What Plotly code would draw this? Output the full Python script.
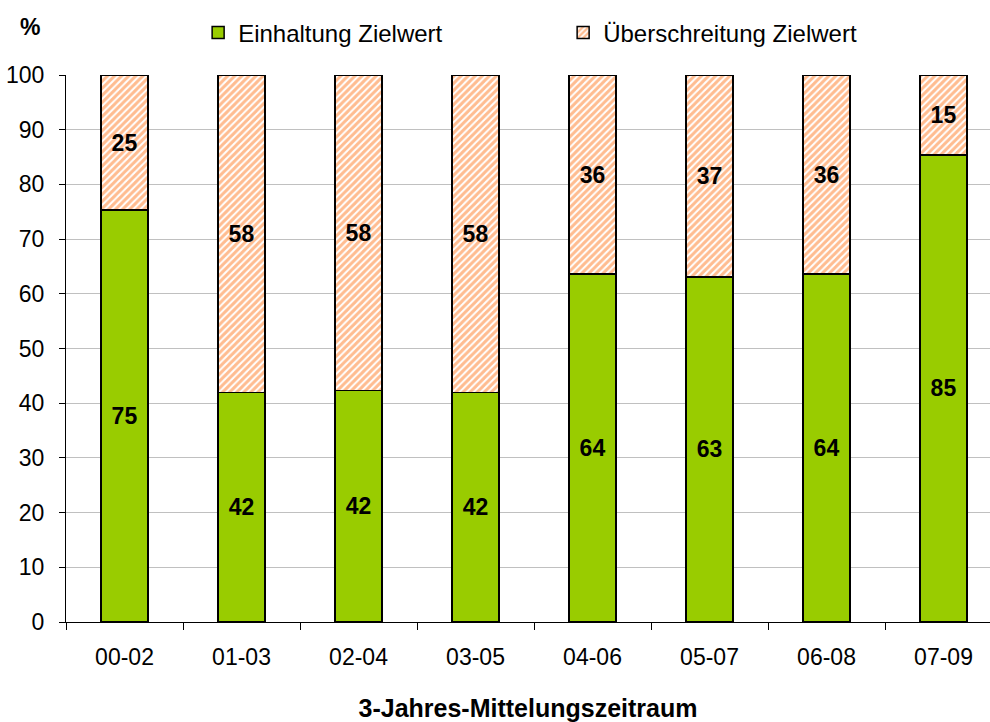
import plotly.graph_objects as go

categories = ["00-02", "01-03", "02-04", "03-05", "04-06", "05-07", "06-08", "07-09"]
einhaltung = [75.3, 42.0, 42.3, 42.0, 63.6, 63.1, 63.6, 85.4]
ueberschreitung = [24.7, 58.0, 57.7, 58.0, 36.4, 36.9, 36.4, 14.6]
y_ticks = [0, 10, 20, 30, 40, 50, 60, 70, 80, 90, 100]

FONT = "Liberation Sans, Arial, sans-serif"

fig = go.Figure()
fig.add_trace(go.Bar(
    x=categories, y=einhaltung, name="Einhaltung Zielwert",
    marker=dict(color="#99CC00", line=dict(color="black", width=1.5)),
    text=[f"{round(v)}" for v in einhaltung],
    textposition="inside", insidetextanchor="middle", textangle=0,
    textfont=dict(family=FONT, size=23, color="black", weight="bold"),
    width=0.4,
))
fig.add_trace(go.Bar(
    x=categories, y=ueberschreitung, name="Überschreitung Zielwert",
    marker=dict(color="white", line=dict(color="black", width=1.5),
                pattern=dict(shape="/", fgcolor="#FF7A22", bgcolor="white",
                             size=5, solidity=0.6)),
    text=[f"{round(v)}" for v in ueberschreitung],
    textposition="inside", insidetextanchor="middle", textangle=0,
    textfont=dict(family=FONT, size=23, color="black", weight="bold"),
    width=0.4,
))

fig.update_layout(
    barmode="stack",
    width=990, height=722,
    margin=dict(l=66, r=0, t=75, b=100, autoexpand=False),
    paper_bgcolor="white", plot_bgcolor="white",
    font=dict(family=FONT, size=23, color="black"),
    showlegend=True,
    legend=dict(orientation="h", x=0.143, xanchor="left", y=1.077, yanchor="middle",
                font=dict(family=FONT, size=24, color="black"),
                entrywidth=320, entrywidthmode="pixels", traceorder="normal",
                bgcolor="rgba(0,0,0,0)"),
    xaxis=dict(
        range=[-0.5, -0.5 + 924 / 117], type="category",
        showline=True, linecolor="black", linewidth=1,
        ticks="outside", tickson="boundaries", ticklen=7, tickcolor="black",
        ticklabelstandoff=14,
        tickfont=dict(family=FONT, size=23), showgrid=False,
        title=dict(text="3-Jahres-Mittelungszeitraum", standoff=44,
                   font=dict(family=FONT, size=25, weight="bold")),
        automargin=False, fixedrange=True,
    ),
    yaxis=dict(
        range=[0, 100], tickvals=y_ticks,
        showline=True, linecolor="black", linewidth=1,
        ticks="outside", ticklen=6, tickcolor="black",
        ticklabelstandoff=10,
        tickfont=dict(family=FONT, size=23),
        showgrid=True, gridcolor="#C0C0C0", gridwidth=1,
        zeroline=False, automargin=False, fixedrange=True,
    ),
    annotations=[dict(text="<b>%</b>", xref="paper", yref="paper",
                      x=(30 - 66) / 924, y=1 + (75 - 27) / 547,
                      xanchor="center", yanchor="middle", showarrow=False,
                      font=dict(family=FONT, size=23, color="black"))],
)

fig.write_html("out.html", config={"displayModeBar": False},
               post_script="document.body.style.margin='0';document.body.style.overflow='hidden';")
